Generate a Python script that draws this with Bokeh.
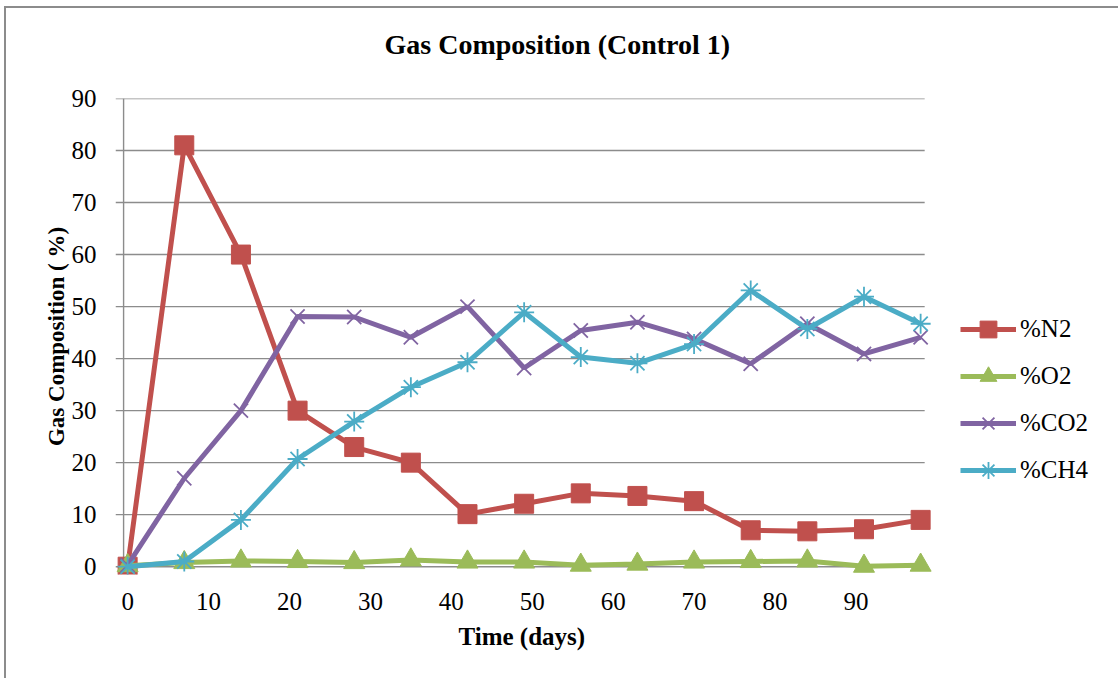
from bokeh.plotting import figure
from bokeh.models import Legend, LegendItem, FixedTicker, Range1d, ColumnDataSource, Title
from bokeh.embed import file_html
from bokeh.resources import INLINE

# ---- data ----
days = [0, 7, 14, 21, 28, 35, 42, 49, 56, 63, 70, 77, 84, 91, 98]
n2 = [0, 81, 60, 30, 23, 20, 10.1, 12.1, 14.1, 13.6, 12.6, 7.0, 6.8, 7.2, 9.0]
o2 = [0.2, 0.8, 1.1, 1.0, 0.8, 1.3, 0.9, 0.9, 0.3, 0.5, 0.9, 1.0, 1.1, 0.1, 0.3]
co2 = [0.3, 17, 30, 48.1, 48, 44.1, 50, 38.2, 45.4, 47, 43.8, 39, 46.7, 40.9, 44.1]
ch4 = [0, 1.0, 9.0, 20.7, 27.9, 34.5, 39.3, 48.9, 40.3, 39.1, 42.8, 53.1, 45.7, 51.9, 46.7]

series_names = ["%N2", "%O2", "%CO2", "%CH4"]
series_values = [n2, o2, co2, ch4]
series_colors = ["#C0504D", "#9BBB59", "#8064A2", "#4BACC6"]
series_markers = ["square", "triangle", "x", "asterisk"]

x_ticks = [0, 10, 20, 30, 40, 50, 60, 70, 80, 90]
y_ticks = [0, 10, 20, 30, 40, 50, 60, 70, 80, 90]

title_text = "Gas Composition (Control 1)"
x_label = "Time (days)"
y_label = "Gas Composition ( %)"

FONT = "Liberation Serif"
GRID = "#8c8c8c"
X_START, X_AXIS, X_GRID_END = -1.5, -0.5, 98.5

p = figure(width=1114, height=672,
           x_range=Range1d(X_START, 122.7), y_range=Range1d(-1.5, 90),
           output_backend="svg", toolbar_location=None,
           min_border_left=109, min_border_right=0,
           min_border_top=90, min_border_bottom=106)
p.margin = (6, 0, 0, 4)
p.styles = {"border-top": "2px solid #8c8c8c", "border-left": "2px solid #8c8c8c"}
p.outline_line_color = None
p.background_fill_color = "white"
p.border_fill_color = "white"

# title (outermost) + spacer title between it and the frame
p.add_layout(Title(text=" ", text_font=FONT, text_font_size="28px",
                   text_font_style="bold", standoff=4), "above")
p.title.text = title_text
p.title.text_font = FONT
p.title.text_font_size = "28px"
p.title.text_font_style = "bold"
p.title.text_color = "black"
p.title.align = "left"
p.title.offset = 269
p.title.vertical_align = "middle"
p.title.standoff = 2

p.xgrid.visible = False
p.ygrid.visible = False
p.segment(x0=[X_START] * len(y_ticks), y0=y_ticks,
          x1=[X_GRID_END] * len(y_ticks), y1=y_ticks,
          line_color=GRID, line_width=1.4)
# y axis line (Excel style)
p.segment(x0=[X_AXIS], y0=[y_ticks[0]], x1=[X_AXIS], y1=[y_ticks[-1]],
          line_color=GRID, line_width=1.4)

p.xaxis.ticker = FixedTicker(ticks=x_ticks)
p.yaxis.ticker = FixedTicker(ticks=y_ticks)
for ax in (p.xaxis, p.yaxis):
    ax.axis_line_color = None
    ax.major_tick_line_color = None
    ax.minor_tick_line_color = None
    ax.major_label_text_font = FONT
    ax.major_label_text_font_size = "25px"
    ax.major_label_text_color = "black"
p.yaxis.axis_label = y_label
p.yaxis.axis_label_text_font = FONT
p.yaxis.axis_label_text_font_style = "bold"
p.yaxis.axis_label_text_color = "black"
p.yaxis.axis_label_text_font_size = "23px"
p.yaxis.major_label_standoff = 13
p.xaxis.major_label_standoff = 12
p.yaxis.axis_label_standoff = 0

p.add_layout(Title(text=x_label, text_font=FONT, text_font_size="25px",
                   text_font_style="bold", text_color="black", align="left",
                   offset=343, vertical_align="middle", standoff=19), "below")

items = []
for name, vals, col, mk in zip(series_names, series_values, series_colors, series_markers):
    src = ColumnDataSource(dict(x=days, y=vals))
    lr = p.line("x", "y", source=src, line_color=col, line_width=5)
    if mk in ("x", "asterisk"):
        mr = p.scatter("x", "y", source=src, marker=mk, size=20, line_color=col,
                       line_width=1.8)
    else:
        mr = p.scatter("x", "y", source=src, marker=mk, size=19 if mk == "square" else 21,
                       fill_color=col, line_color=col, line_width=1)
    items.append(LegendItem(label=name, renderers=[lr, mr]))

legend = Legend(items=items, location=(845, 83))
legend.label_text_font = FONT
legend.label_text_font_size = "25px"
legend.label_text_color = "black"
legend.glyph_width = 56
legend.glyph_height = 42
legend.label_height = 20
legend.spacing = 5
legend.label_standoff = 4
legend.padding = 0
legend.margin = 0
legend.border_line_color = None
legend.background_fill_alpha = 0
p.add_layout(legend, "center")

open("out.html", "w").write(file_html(p, INLINE))
